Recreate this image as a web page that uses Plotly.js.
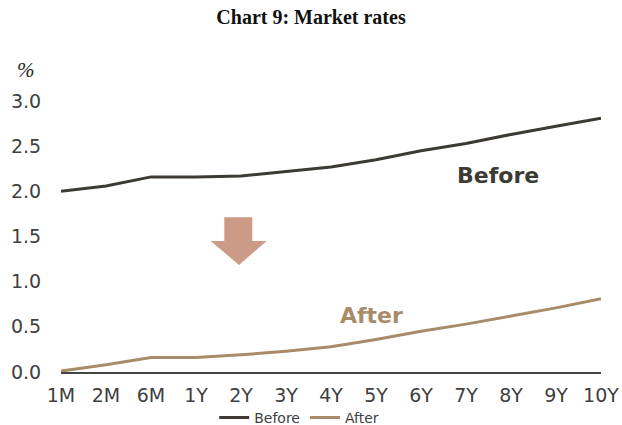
<!DOCTYPE html>
<html>
<head>
<meta charset="utf-8">
<script src="https://cdn.plot.ly/plotly-3.0.1.min.js"></script>
<style>html,body{margin:0;padding:0;background:#fff;}#chart{width:622px;height:425px;}</style>
</head>
<body>
<div id="chart"></div>
<script>
const tenors = ["1M","2M","6M","1Y","2Y","3Y","4Y","5Y","6Y","7Y","8Y","9Y","10Y"];
const before = [2.00, 2.06, 2.16, 2.16, 2.17, 2.22, 2.27, 2.35, 2.45, 2.53, 2.63, 2.72, 2.81];
const after  = [0.01, 0.08, 0.16, 0.16, 0.19, 0.23, 0.28, 0.36, 0.45, 0.53, 0.62, 0.71, 0.81];
const yTicks = [0, 0.5, 1.0, 1.5, 2.0, 2.5, 3.0];

const cBefore = "#3c3a32";
const cAfter = "#a88b68";

const traces = [
  {x: tenors, y: before, type: "scatter", mode: "lines", name: "Before",
   line: {color: cBefore, width: 3}},
  {x: tenors, y: after, type: "scatter", mode: "lines", name: "After",
   line: {color: cAfter, width: 3}}
];

const layout = {
  width: 622, height: 425,
  margin: {l: 61, r: 21, t: 88, b: 53},
  paper_bgcolor: "#fff", plot_bgcolor: "#fff",
  title: {text: "<b>Chart 9: Market rates</b>", x: 0.5, xanchor: "center", y: 0.96, yanchor: "middle",
          font: {family: "Liberation Serif, serif", size: 20, color: "#111"}},
  xaxis: {type: "category", range: [0, 12], showgrid: false, zeroline: false, automargin: false,
          showline: true, linecolor: "#444", linewidth: 1.5,
          ticks: "outside", ticklen: 6, tickcolor: "rgba(0,0,0,0)",
          tickfont: {family: "DejaVu Sans, sans-serif", size: 19, color: "#404040"}},
  yaxis: {range: [0, 3.144], tickvals: yTicks, ticktext: yTicks.map(v => v.toFixed(1)),
          showgrid: false, zeroline: false, showline: false, automargin: false,
          ticks: "outside", ticklen: 15, tickcolor: "rgba(0,0,0,0)",
          tickfont: {family: "DejaVu Sans, sans-serif", size: 19, color: "#404040"}},
  showlegend: true,
  legend: {orientation: "h", xref: "container", yref: "container",
           x: 0.481, xanchor: "center", y: 0.0165, yanchor: "middle",
           font: {family: "DejaVu Sans, sans-serif", size: 14, color: "#404040"},
           tracegroupgap: 0, bgcolor: "rgba(0,0,0,0)"},
  shapes: [
    {type: "path", xref: "paper", yref: "paper",
     path: "M0.3024,0.5447 L0.3543,0.5447 L0.3543,0.4613 L0.3809,0.4613 L0.3296,0.3768 L0.2772,0.4613 L0.3024,0.4613 Z",
     fillcolor: "#cc9b87", line: {width: 0}}
  ],
  annotations: [
    {text: "<b>Before</b>", x: 9.71, y: 2.18, xref: "x", yref: "y", showarrow: false,
     font: {family: "DejaVu Sans, sans-serif", size: 22, color: cBefore}},
    {text: "<b>After</b>", x: 6.9, y: 0.62, xref: "x", yref: "y", showarrow: false,
     font: {family: "DejaVu Sans, sans-serif", size: 22, color: cAfter}},
    {text: "<i>%</i>", x: -0.065, y: 1.063, xref: "paper", yref: "paper", showarrow: false,
     xanchor: "center", yanchor: "middle",
     font: {family: "Liberation Serif, serif", size: 21, color: "#222"}}
  ]
};

Plotly.newPlot("chart", traces, layout, {displayModeBar: false, staticPlot: true});
</script>
</body>
</html>
